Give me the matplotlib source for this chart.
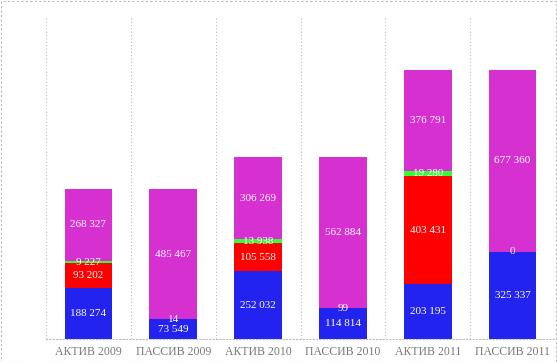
import numpy as np
import matplotlib
matplotlib.use("Agg")
import matplotlib.pyplot as plt
from matplotlib.patches import Rectangle

# Категории и значения сегментов (снизу вверх)
CATEGORIES = ["АКТИВ 2009", "ПАССИВ 2009", "АКТИВ 2010",
              "ПАССИВ 2010", "АКТИВ 2011", "ПАССИВ 2011"]
BLUE = [188274, 73549, 252032, 114814, 203195, 325337]
RED = [93202, 0, 105558, 0, 403431, 0]
GREEN = [9227, 14, 13938, 99, 19280, 0]
MAGENTA = [268327, 485467, 306269, 562884, 376791, 677360]

SERIES = [
    (BLUE, "#2323f0"),
    (RED, "#ff0000"),
    (GREEN, "#33ff33"),
    (MAGENTA, "#d630d0"),
]


def fmt(v):
    return f"{v:,}".replace(",", " ")


fig = plt.figure(figsize=(5.57, 3.62), dpi=100)
ax = fig.add_axes([46 / 557, 23 / 362, 509 / 557, 322 / 362])

x = np.arange(len(CATEGORIES))
bottom = np.zeros(len(CATEGORIES))
for vals, color in SERIES:
    vals = np.asarray(vals, dtype=float)
    ax.bar(x, vals, width=0.56, bottom=bottom, color=color, linewidth=0, zorder=2)
    for i, v in enumerate(vals):
        if v == 0 and color == "#ff0000":
            continue
        ax.text(x[i], bottom[i] + v / 2, fmt(int(v)), ha="center", va="center",
                color="white", fontsize=8, family="Liberation Serif", zorder=3)
    bottom += vals

ax.set_xlim(-0.5, len(CATEGORIES) - 0.5)
ax.set_ylim(0, 1200000)

# вертикальные разделители категорий
for b in np.arange(-0.5, len(CATEGORIES), 1.0):
    ax.axvline(b, color="#bbbbbb", linestyle=(0, (1, 2)), linewidth=0.8, zorder=1)

for s in ["top", "left", "right"]:
    ax.spines[s].set_visible(False)
ax.spines["bottom"].set_color("#bbbbbb")
ax.spines["bottom"].set_linestyle((0, (1, 2)))
ax.set_yticks([])
ax.set_xticks(x)
ax.set_xticklabels(CATEGORIES, family="Liberation Serif", fontsize=8.5, color="#777777")
ax.tick_params(axis="x", length=0, pad=5)

# рамка вокруг рисунка
fig.patches.append(Rectangle((0.001, 0.001), 0.997, 0.996, transform=fig.transFigure,
                             fill=False, edgecolor="#bbbbbb", linestyle=(0, (2, 2)),
                             linewidth=0.8))

fig.savefig("out.png", dpi=100)
